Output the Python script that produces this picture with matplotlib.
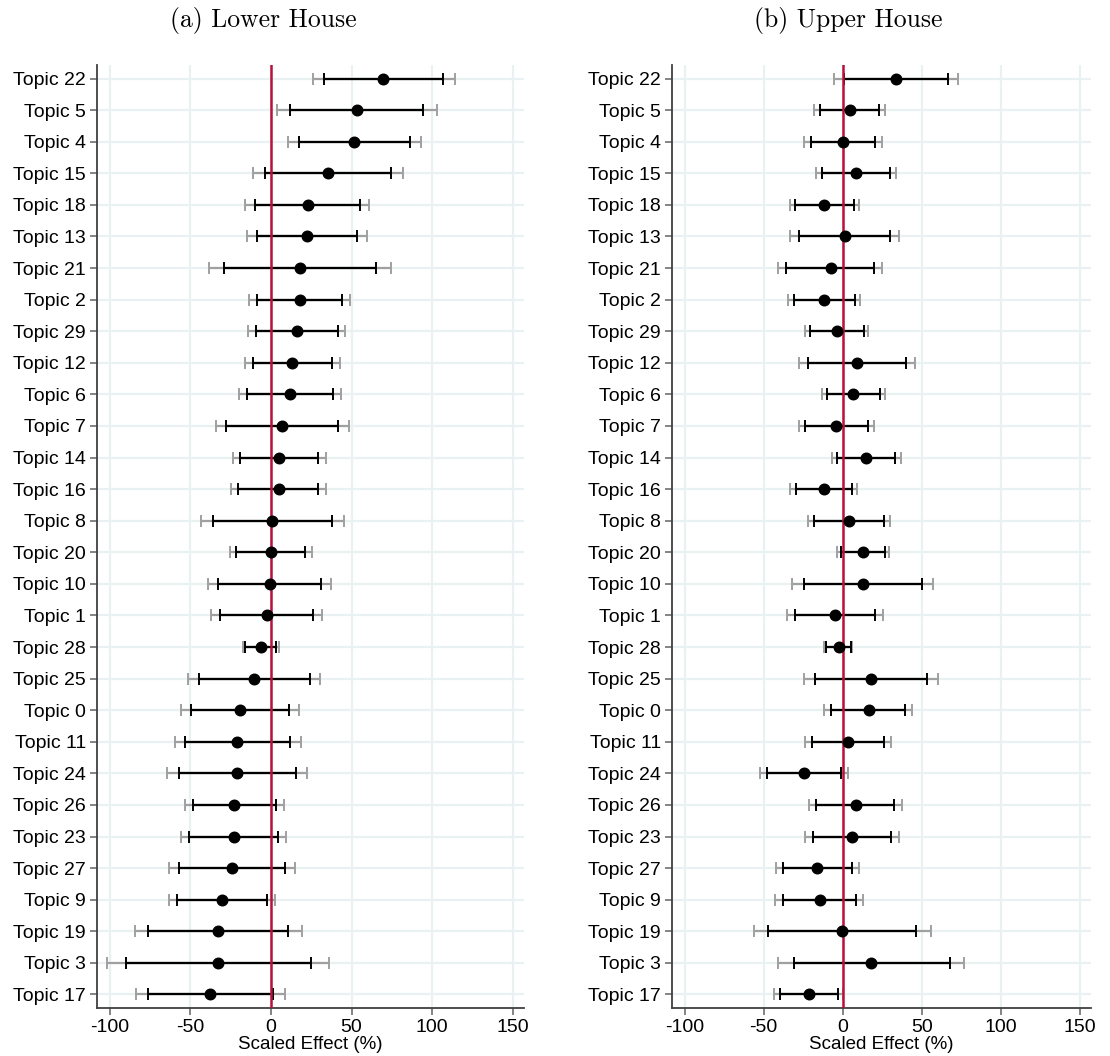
import matplotlib.pyplot as plt
import numpy as np

plt.rcParams['font.family'] = ['Liberation Sans', 'DejaVu Sans']

# topics, listed top to bottom
topics = ['Topic 22', 'Topic 5', 'Topic 4', 'Topic 15', 'Topic 18', 'Topic 13',
          'Topic 21', 'Topic 2', 'Topic 29', 'Topic 12', 'Topic 6', 'Topic 7',
          'Topic 14', 'Topic 16', 'Topic 8', 'Topic 20', 'Topic 10', 'Topic 1',
          'Topic 28', 'Topic 25', 'Topic 0', 'Topic 11', 'Topic 24', 'Topic 26',
          'Topic 23', 'Topic 27', 'Topic 9', 'Topic 19', 'Topic 3', 'Topic 17']

# (a) Lower House
lower_est = [69.6, 53.3, 51.6, 35.5, 23.0, 22.6, 18.1, 17.8, 16.3, 13.1, 12.0, 6.7,
             5.2, 4.7, 0.6, 0.2, -0.6, -2.8, -6.4, -10.5, -19.1, -20.9, -21.1, -22.8,
             -23.2, -24.3, -30.3, -32.9, -32.9, -37.8]
lower_lo90 = [32.9, 11.8, 17.2, -3.9, -9.7, -8.6, -29.4, -8.8, -9.2, -11.2, -14.6, -27.9,
              -19.1, -20.4, -36.3, -21.5, -32.7, -31.6, -16.1, -44.9, -49.9, -53.3, -57.4, -48.4,
              -50.9, -57.2, -58.5, -76.3, -90.1, -76.3]
lower_hi90 = [106.8, 94.6, 86.4, 74.4, 55.0, 53.5, 65.3, 44.3, 41.3, 37.6, 38.5, 41.5,
              29.2, 29.2, 38.0, 21.3, 31.2, 26.0, 3.0, 24.1, 11.2, 11.8, 15.3, 2.8,
              4.1, 8.4, -2.8, 10.7, 24.7, 1.1]
lower_lo95 = [25.8, 3.9, 10.7, -11.2, -15.9, -14.8, -38.5, -13.8, -14.0, -16.1, -19.6, -34.4,
              -23.9, -24.9, -43.4, -25.6, -38.9, -37.4, -17.6, -51.6, -55.9, -59.8, -64.5, -53.5,
              -56.1, -63.6, -63.6, -84.5, -101.5, -83.8]
lower_hi95 = [113.9, 102.8, 92.9, 81.7, 61.0, 59.5, 74.6, 49.2, 45.8, 42.6, 43.4, 48.2,
              34.0, 34.0, 45.1, 25.4, 37.2, 31.6, 4.7, 30.7, 17.2, 18.5, 22.6, 8.0,
              9.2, 14.6, 2.6, 19.1, 35.9, 8.4]

# (b) Upper House
upper_est = [33.8, 4.4, 0.2, 8.3, -11.6, 1.3, -7.6, -11.8, -3.7, 9.2, 6.5, -4.1,
             14.8, -12.0, 3.9, 12.9, 12.6, -5.0, -2.6, 17.9, 16.3, 3.5, -24.4, 8.1,
             5.7, -16.1, -14.6, -0.2, 18.1, -21.4]
upper_lo90 = [0.7, -14.4, -20.3, -13.3, -30.1, -27.7, -35.7, -31.0, -20.5, -21.8, -10.2, -24.0,
              -3.7, -29.6, -18.3, -0.9, -24.8, -30.5, -10.7, -17.4, -7.2, -19.4, -48.0, -16.8,
              -19.0, -37.7, -38.1, -47.1, -30.9, -39.7]
upper_hi90 = [66.5, 22.9, 20.7, 29.6, 7.2, 30.1, 19.8, 7.6, 13.3, 39.9, 23.5, 15.9,
              32.9, 5.9, 26.2, 26.6, 50.1, 20.3, 5.0, 53.0, 39.5, 26.2, -0.9, 32.7,
              30.7, 6.1, 8.5, 46.6, 67.6, -3.1]
upper_lo95 = [-5.4, -17.9, -24.2, -17.2, -33.6, -33.1, -40.8, -34.7, -23.8, -27.5, -13.3, -27.7,
              -6.8, -33.1, -22.2, -3.7, -32.0, -35.3, -11.8, -24.2, -11.6, -23.8, -52.3, -21.4,
              -23.8, -42.3, -42.7, -56.0, -40.8, -43.4]
upper_hi95 = [73.0, 26.4, 24.6, 33.6, 10.0, 35.7, 25.1, 11.1, 15.9, 45.8, 26.8, 19.6,
              36.8, 9.2, 30.1, 29.4, 57.3, 25.3, 6.1, 60.2, 43.8, 30.5, 3.3, 37.3,
              35.7, 10.0, 12.9, 55.6, 76.9, 0.4]

xticks = [-100, -50, 0, 50, 100, 150]


def draw_panel(ax, est, lo90, hi90, lo95, hi95):
    n = len(topics)
    y = np.arange(n)[::-1]
    est = np.array(est)
    # grid
    for yy in y:
        ax.axhline(yy, color='#eaf1f3', lw=1.6, zorder=0)
    for xx in xticks:
        ax.axvline(xx, color='#eaf1f3', lw=1.6, zorder=0)
    # 95% interval (gray)
    ax.errorbar(est, y, xerr=[est - np.array(lo95), np.array(hi95) - est], fmt='none',
                ecolor='#a0a0a0', elinewidth=1.6, capsize=4.5, capthick=1.4, zorder=2)
    # 90% interval (black)
    ax.errorbar(est, y, xerr=[est - np.array(lo90), np.array(hi90) - est], fmt='none',
                ecolor='black', elinewidth=1.6, capsize=4.5, capthick=1.4, zorder=3)
    ax.axvline(0, color='#b8123a', lw=1.8, zorder=4)
    ax.plot(est, y, 'o', color='black', ms=7.6, zorder=5)

    ax.set_ylim(-0.43, n - 1 + 0.43)
    ax.set_xlim(-108, 157)
    ax.set_yticks(y)
    ax.set_yticklabels(topics, fontsize=14)
    ax.set_xticks(xticks)
    ax.set_xticklabels([str(t) for t in xticks], fontsize=14)
    ax.set_xlabel('Scaled Effect (%)', fontsize=13.5, labelpad=0)
    for s in ['top', 'right']:
        ax.spines[s].set_visible(False)
    for s in ['left', 'bottom']:
        ax.spines[s].set_color('#404040')
        ax.spines[s].set_linewidth(1.3)
    ax.tick_params(axis='both', color='#707070', length=5, width=1.2, pad=3)


fig = plt.figure(figsize=(11.1, 10.56), dpi=100)
ax1 = fig.add_axes([97 / 1110, 1 - 1008 / 1056, 427 / 1110, 943 / 1056])
ax2 = fig.add_axes([672 / 1110, 1 - 1008 / 1056, 419 / 1110, 943 / 1056])

draw_panel(ax1, lower_est, lower_lo90, lower_hi90, lower_lo95, lower_hi95)
draw_panel(ax2, upper_est, upper_lo90, upper_hi90, upper_lo95, upper_hi95)

fig.text(263 / 1110, 1 - 21 / 1056, '(a) Lower House', family='cmr10', fontsize=18.5,
         ha='center', va='center')
fig.text(848 / 1110, 1 - 21 / 1056, '(b) Upper House', family='cmr10', fontsize=18.5,
         ha='center', va='center')

fig.savefig('out.png', dpi=100)
